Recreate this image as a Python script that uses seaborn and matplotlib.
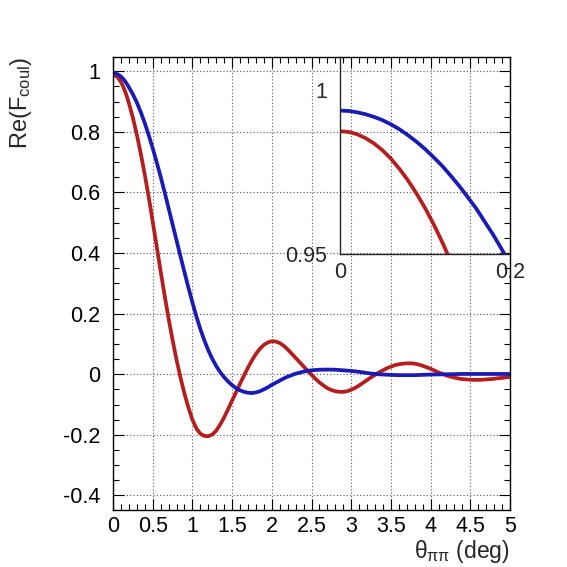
import matplotlib
matplotlib.use("Agg")
import matplotlib.pyplot as plt
import seaborn as sns
import pandas as pd
from matplotlib.ticker import MultipleLocator

# ---- data ----
theta_red = [0, 0.01, 0.02, 0.03, 0.04, 0.05, 0.06, 0.07, 0.08, 0.09, 0.10, 0.11, 0.12,
             0.13, 0.14, 0.15, 0.16, 0.18,
             0.20, 0.25, 0.30, 0.35, 0.40, 0.45, 0.50, 0.55, 0.60, 0.65, 0.70, 0.75,
             0.80, 0.85, 0.90, 0.95, 1.00, 1.05, 1.10, 1.15, 1.20, 1.25, 1.30, 1.35,
             1.40, 1.45, 1.50, 1.55, 1.60, 1.65, 1.70, 1.75, 1.80, 1.85, 1.90, 1.95,
             2.00, 2.05, 2.10, 2.15, 2.20, 2.25, 2.30, 2.35, 2.40, 2.45, 2.50, 2.55,
             2.60, 2.65, 2.70, 2.75, 2.80, 2.85, 2.90, 2.95, 3.00, 3.05, 3.10, 3.15,
             3.20, 3.25, 3.30, 3.35, 3.40, 3.45, 3.50, 3.55, 3.60, 3.65, 3.70, 3.75,
             3.80, 3.85, 3.90, 3.95, 4.00, 4.05, 4.10, 4.15, 4.20, 4.25, 4.30, 4.35,
             4.40, 4.45, 4.50, 4.55, 4.60, 4.65, 4.70, 4.75, 4.80, 4.85, 4.90, 4.95, 5.00]
re_red = [0.9875, 0.9873, 0.9866, 0.9854, 0.9838, 0.9817, 0.9791, 0.9760, 0.9725, 0.9685, 0.9641, 0.9592, 0.9538,
          0.9480, 0.9417, 0.9350, 0.9280, 0.9122,
          0.895, 0.847, 0.791, 0.728, 0.659, 0.584, 0.504, 0.422, 0.340, 0.260, 0.184, 0.113,
          0.048, -0.011, -0.064, -0.110, -0.150, -0.179, -0.196, -0.2035, -0.2045, -0.199, -0.186, -0.166,
          -0.142, -0.115, -0.087, -0.059, -0.031, -0.004, 0.022, 0.046, 0.067, 0.084, 0.097, 0.105,
          0.109, 0.108, 0.103, 0.094, 0.082, 0.068, 0.054, 0.040, 0.026, 0.012, -0.002, -0.015,
          -0.027, -0.037, -0.046, -0.052, -0.056, -0.058, -0.058, -0.056, -0.051, -0.045, -0.037, -0.028,
          -0.019, -0.010, -0.002, 0.006, 0.013, 0.020, 0.025, 0.030, 0.033, 0.035, 0.036, 0.036,
          0.035, 0.032, 0.028, 0.023, 0.018, 0.012, 0.006, 0.001, -0.004, -0.008, -0.011, -0.014,
          -0.016, -0.017, -0.018, -0.0185, -0.0185, -0.018, -0.017, -0.016, -0.015, -0.013, -0.012, -0.010, -0.009]

theta_blue = [0, 0.01, 0.02, 0.03, 0.04, 0.05, 0.06, 0.07, 0.08, 0.09, 0.10, 0.11, 0.12,
              0.13, 0.14, 0.15, 0.16, 0.17, 0.18, 0.19, 0.20,
              0.25, 0.30, 0.35, 0.40, 0.45, 0.50, 0.55, 0.60, 0.65, 0.70, 0.75,
              0.80, 0.85, 0.90, 0.95, 1.00, 1.05, 1.10, 1.15, 1.20, 1.25, 1.30, 1.35,
              1.40, 1.45, 1.50, 1.55, 1.60, 1.65, 1.70, 1.75, 1.80, 1.85, 1.90, 1.95,
              2.00, 2.05, 2.10, 2.15, 2.20, 2.25, 2.30, 2.35, 2.40, 2.45, 2.50, 2.60,
              2.70, 2.80, 2.90, 3.00, 3.10, 3.20, 3.30, 3.40, 3.50, 3.60, 3.70, 3.80,
              3.90, 4.00, 4.20, 4.40, 4.60, 4.80, 5.00]
re_blue = [0.9938, 0.9937, 0.9933, 0.9927, 0.9919, 0.9909, 0.9896, 0.9881, 0.9863, 0.9843, 0.9821, 0.9796, 0.9770,
           0.9740, 0.9709, 0.9675, 0.9640, 0.9600, 0.9560, 0.9516, 0.9470,
           0.924, 0.897, 0.865, 0.829, 0.789, 0.746, 0.700, 0.652, 0.601, 0.548, 0.495,
           0.442, 0.389, 0.337, 0.286, 0.237, 0.191, 0.149, 0.112, 0.079, 0.051, 0.027, 0.007,
           -0.010, -0.024, -0.036, -0.046, -0.053, -0.058, -0.061, -0.062, -0.060, -0.056, -0.050, -0.043,
           -0.035, -0.028, -0.021, -0.014, -0.008, -0.003, 0.002, 0.005, 0.009, 0.011, 0.013, 0.015,
           0.0155, 0.015, 0.013, 0.011, 0.008, 0.004, 0.001, -0.001, -0.002, -0.003, -0.003, -0.003,
           -0.002, -0.001, 0.0, 0.001, 0.001, 0.001, 0.001]

series_names = ["red", "blue"]
colors = {"red": "#b41e1e", "blue": "#1a1ab4"}

df = pd.concat([
    pd.DataFrame({"theta": theta_red, "re": re_red, "curve": "red"}),
    pd.DataFrame({"theta": theta_blue, "re": re_blue, "curve": "blue"}),
], ignore_index=True)

sns.set_style("ticks")
plt.rcParams["font.family"] = ["Liberation Sans", "DejaVu Sans"]
plt.rcParams["mathtext.fontset"] = "custom"
plt.rcParams["mathtext.rm"] = "Liberation Sans"
plt.rcParams["mathtext.it"] = "Liberation Sans"
plt.rcParams["mathtext.bf"] = "Liberation Sans:bold"

fig = plt.figure(figsize=(5.67, 5.67), dpi=100)
ax = fig.add_axes([0.1993, 0.1005, 0.7002, 0.799])

lw = 2.7
sns.lineplot(data=df, x="theta", y="re", hue="curve", palette=colors,
             hue_order=series_names, ax=ax, linewidth=lw, legend=False,
             estimator=None, sort=False)

ax.set_xlim(0, 5)
ax.set_ylim(-0.448, 1.047)
ax.xaxis.set_minor_locator(MultipleLocator(0.1))
ax.yaxis.set_minor_locator(MultipleLocator(0.05))
ax.set_xticks([0, 0.5, 1, 1.5, 2, 2.5, 3, 3.5, 4, 4.5, 5])
ax.set_xticklabels(["0", "0.5", "1", "1.5", "2", "2.5", "3", "3.5", "4", "4.5", "5"])
ax.set_yticks([-0.4, -0.2, 0, 0.2, 0.4, 0.6, 0.8, 1.0])
ax.set_yticklabels(["-0.4", "-0.2", "0", "0.2", "0.4", "0.6", "0.8", "1"])
ax.tick_params(which="both", direction="in", top=True, right=True, colors="black",
               labelsize=15.5)
ax.tick_params(which="major", length=8, width=0.8)
ax.tick_params(which="minor", length=4, width=0.8)
ax.tick_params(axis="x", which="major", pad=4)
ax.tick_params(axis="y", which="major", pad=9)
ax.grid(True, which="major", linestyle=(0, (1, 2)), color="#555555", linewidth=0.8)
for s in ax.spines.values():
    s.set_linewidth(1.0)
    s.set_color("black")

ax.set_xlabel(r"$\theta_{\pi\pi}$ (deg)", fontsize=16.5, loc="right")
ax.xaxis.set_label_coords(1.0, -0.062)
ax.set_ylabel(r"Re(F$_{\rm coul}$)", fontsize=17, loc="top")
ax.yaxis.set_label_coords(-0.2, 1.0)

# inset
ins = fig.add_axes([0.5996, 0.552, 0.2998, 0.347])
ins.patch.set_alpha(0.0)
sns.lineplot(data=df, x="theta", y="re", hue="curve", palette=colors,
             hue_order=series_names, ax=ins, linewidth=lw, legend=False,
             estimator=None, sort=False)
ins.set_xlim(0, 0.2)
ins.set_ylim(0.95, 1.0101)
ins.set_xticks([0, 0.2])
ins.set_xticklabels(["0", "0.2"])
ins.set_yticks([0.95, 1.0])
ins.set_yticklabels(["0.95", "1"])
ins.tick_params(which="both", length=0, labelsize=15.5)
ins.tick_params(axis="x", pad=6)
ins.tick_params(axis="y", pad=9)
ins.spines["top"].set_visible(False)
ins.spines["right"].set_visible(False)
ins.spines["left"].set_linewidth(1.0)
ins.spines["bottom"].set_linewidth(1.0)
ins.set_xlabel("")
ins.set_ylabel("")

fig.savefig("out.png", dpi=100)
